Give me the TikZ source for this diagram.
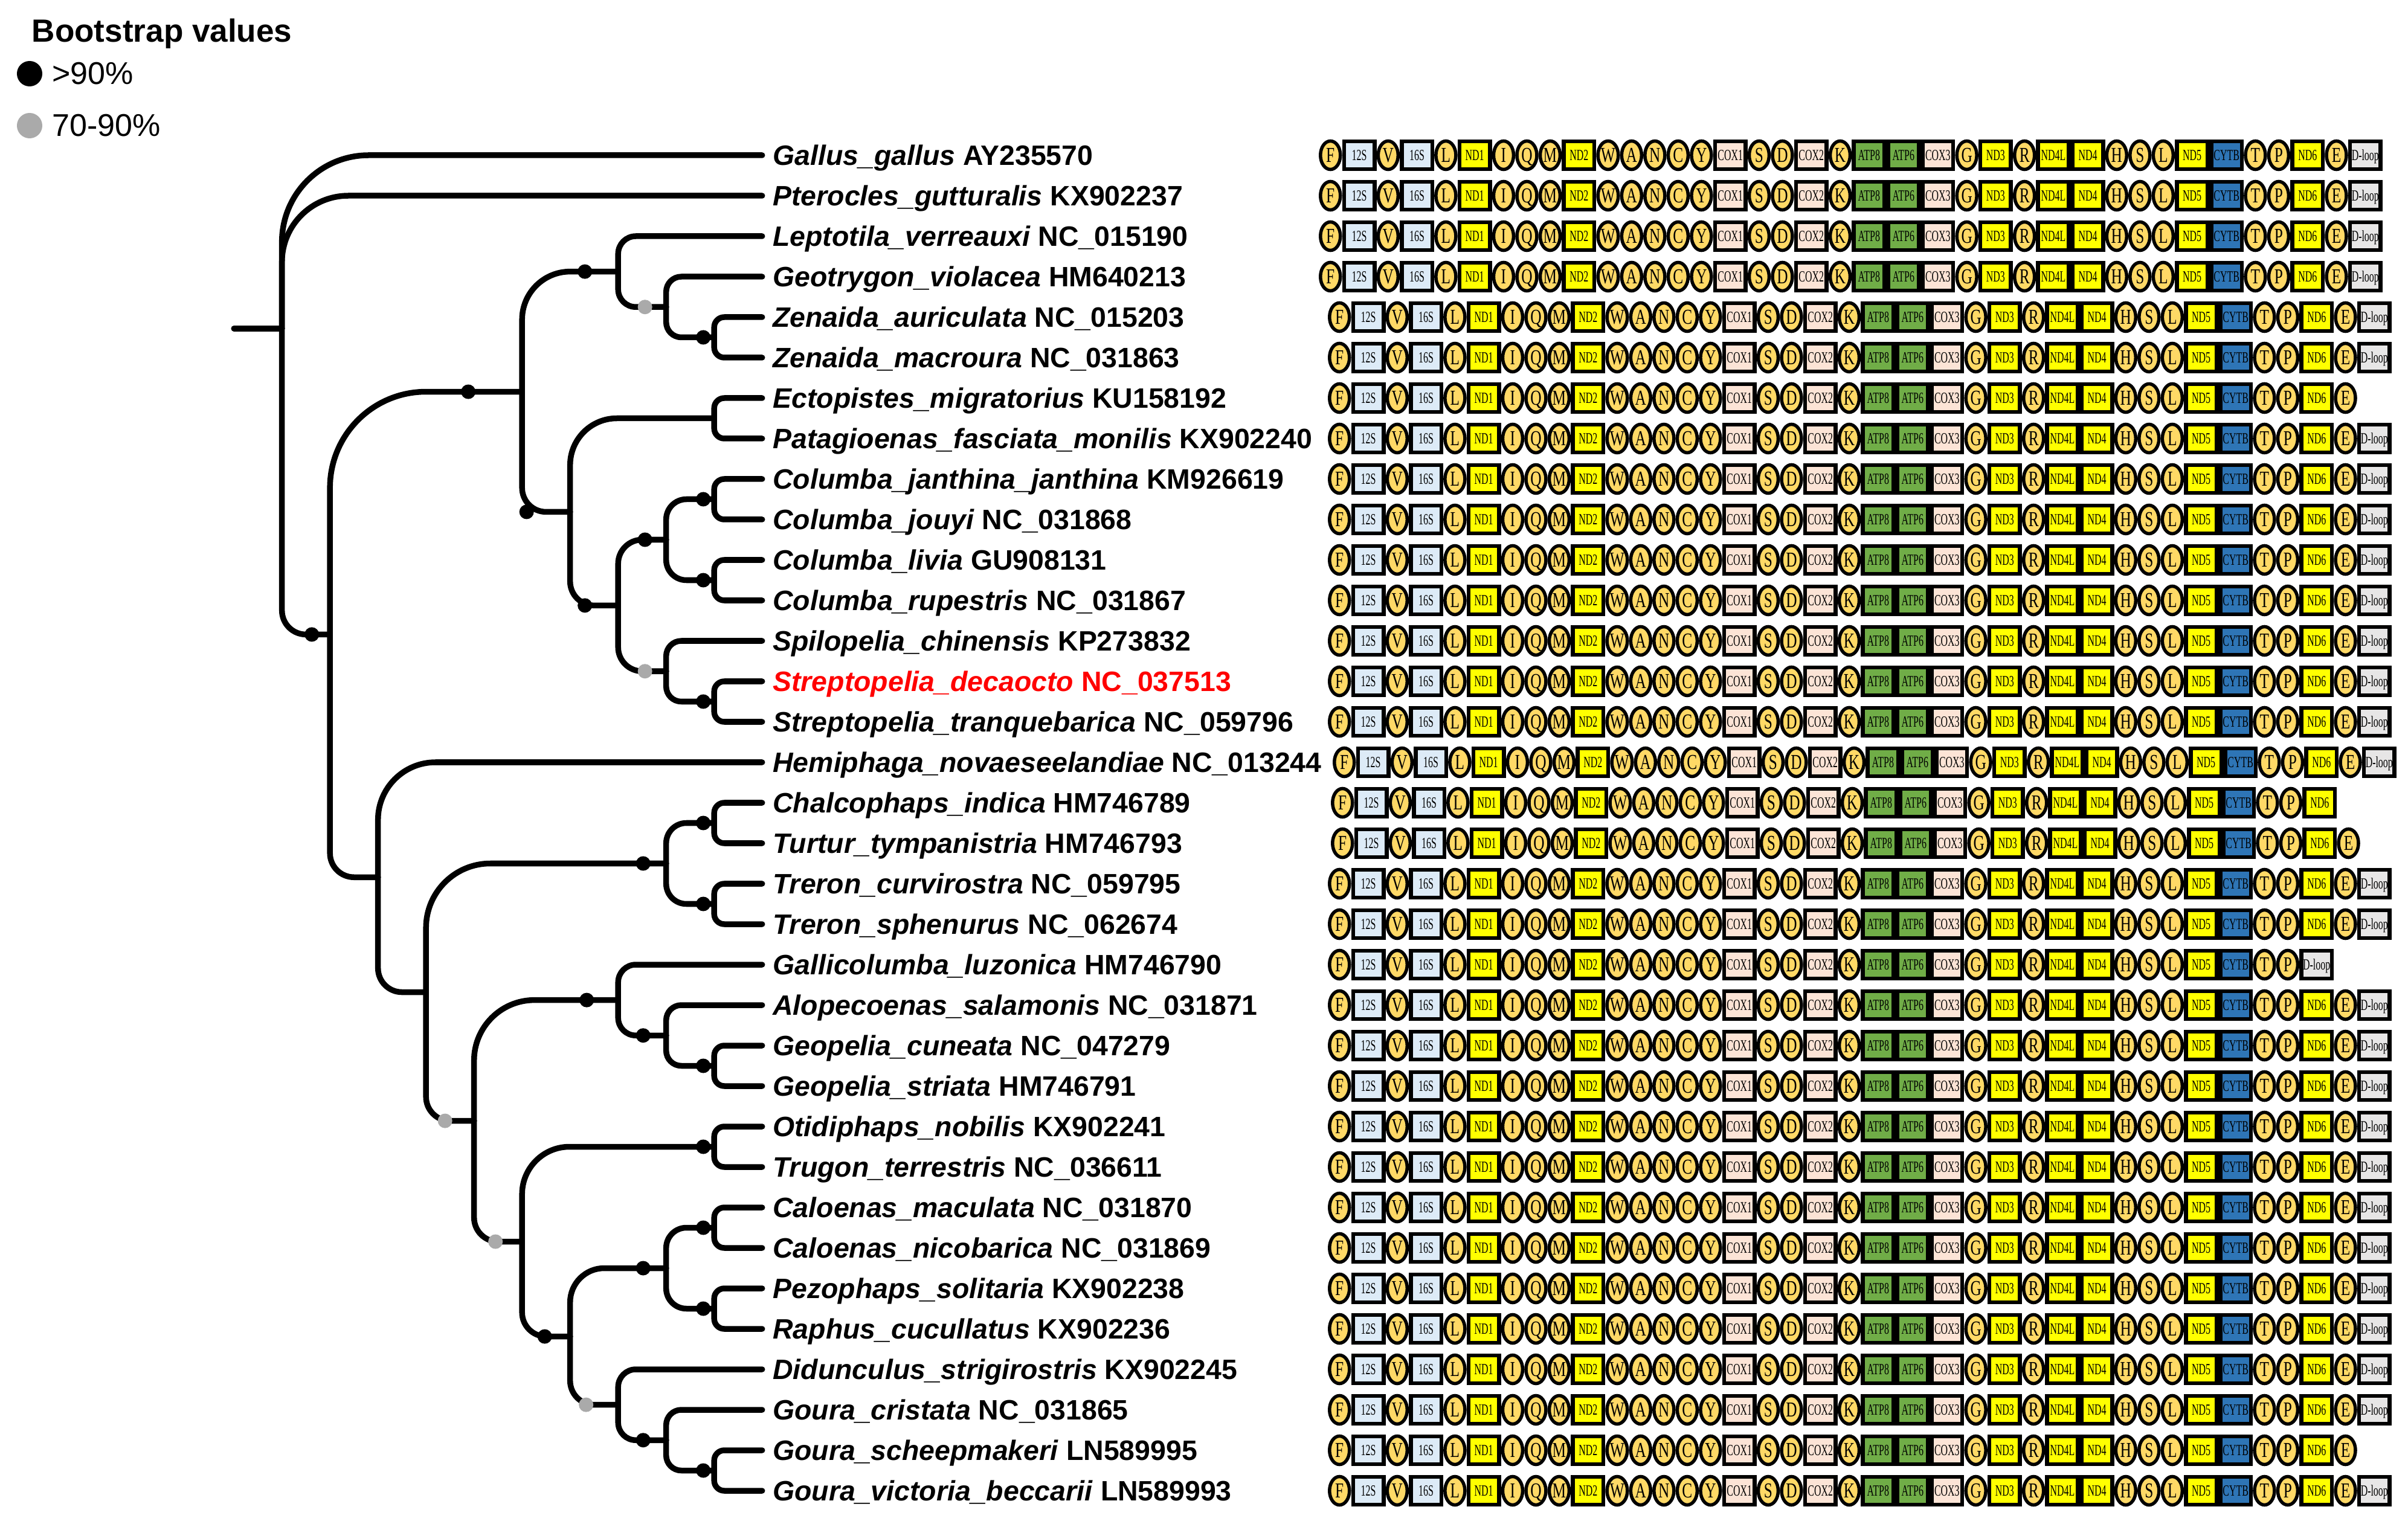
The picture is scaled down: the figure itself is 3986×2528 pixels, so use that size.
\documentclass[tikz,border=0pt]{standalone}
\usepackage{fontspec}
\setmainfont{Liberation Sans}
\newfontfamily\trnafont{Liberation Serif}[FakeStretch=0.72]
\newfontfamily\boxfont{Liberation Serif}[FakeStretch=0.62]
\usetikzlibrary{shapes.geometric, positioning, calc}

\definecolor{trnacol}{RGB}{255,217,102}
\definecolor{rrnacol}{RGB}{221,235,247}
\definecolor{ndcol}{RGB}{255,255,0}
\definecolor{coxcol}{RGB}{252,228,214}
\definecolor{atpcol}{RGB}{112,173,71}
\definecolor{cytbcol}{RGB}{46,117,182}
\definecolor{dloopcol}{RGB}{231,230,230}
\definecolor{bsgray}{RGB}{170,170,170}
\definecolor{focus}{RGB}{255,0,0}

\tikzset{
    x=0.01cm, y=-0.01cm, % one unit is one pixel of the figure, y runs down
    branch/.style={line width=0.095cm, line cap=round, line join=round},
    elbow/.style={to path={let \p1=(\tikztostart), \p2=(\tikztotarget),
        \n1={0.5*min(abs(\x2-\x1),abs(\y2-\y1))}
        in [rounded corners=\n1*1pt] (\tikztostart) |- (\tikztotarget)}}, % square branch, round elbow
    bsdot/.style={circle, inner sep=0pt, minimum size=0.24cm},
    taxon/.style={inner sep=0pt, font=\fontsize{13.2}{15}\selectfont\bfseries},
    legtext/.style={inner sep=0pt, font=\fontsize{14.8}{17}\selectfont},
    trna/.style={ellipse, draw=black, line width=0.055cm, fill=trnacol, inner sep=0pt,
        minimum width=0.33cm, minimum height=0.47cm,
        font=\trnafont\fontsize{10}{10}\selectfont, text height=6.6pt, text depth=0pt},
    genebox/.style={rectangle, draw=black, line width=0.065cm, inner sep=0pt,
        minimum width=0.505cm, minimum height=0.455cm,
        font=\boxfont\fontsize{7.3}{7.3}\selectfont, text height=4.8pt, text depth=0pt},
    rrna/.style={genebox, fill=rrnacol},
    nd/.style={genebox, fill=ndcol},
    cox/.style={genebox, fill=coxcol},
    atp/.style={genebox, fill=atpcol},
    cytb/.style={genebox, fill=cytbcol},
    dloop/.style={genebox, fill=dloopcol},
}

\newcommand{\lx}[1]{466.7+79.5*(#1)} % tree level -> x
\newcommand{\ry}[1]{257+67*(#1)}     % row -> y

% gene orders
\def\ordfull{F/trna, 12S/rrna, V/trna, 16S/rrna, L/trna, ND1/nd, I/trna, Q/trna, M/trna, ND2/nd, W/trna, A/trna, N/trna, C/trna, Y/trna, COX1/cox, S/trna, D/trna, COX2/cox, K/trna, ATP8/atp, ATP6/atp, COX3/cox, G/trna, ND3/nd, R/trna, ND4L/nd, ND4/nd, H/trna, S/trna, L/trna, ND5/nd, CYTB/cytb, T/trna, P/trna, ND6/nd, E/trna, D-loop/dloop}
\def\ordnoloop{F/trna, 12S/rrna, V/trna, 16S/rrna, L/trna, ND1/nd, I/trna, Q/trna, M/trna, ND2/nd, W/trna, A/trna, N/trna, C/trna, Y/trna, COX1/cox, S/trna, D/trna, COX2/cox, K/trna, ATP8/atp, ATP6/atp, COX3/cox, G/trna, ND3/nd, R/trna, ND4L/nd, ND4/nd, H/trna, S/trna, L/trna, ND5/nd, CYTB/cytb, T/trna, P/trna, ND6/nd, E/trna}
\def\ordnoE{F/trna, 12S/rrna, V/trna, 16S/rrna, L/trna, ND1/nd, I/trna, Q/trna, M/trna, ND2/nd, W/trna, A/trna, N/trna, C/trna, Y/trna, COX1/cox, S/trna, D/trna, COX2/cox, K/trna, ATP8/atp, ATP6/atp, COX3/cox, G/trna, ND3/nd, R/trna, ND4L/nd, ND4/nd, H/trna, S/trna, L/trna, ND5/nd, CYTB/cytb, T/trna, P/trna, ND6/nd}
\def\ordgal{F/trna, 12S/rrna, V/trna, 16S/rrna, L/trna, ND1/nd, I/trna, Q/trna, M/trna, ND2/nd, W/trna, A/trna, N/trna, C/trna, Y/trna, COX1/cox, S/trna, D/trna, COX2/cox, K/trna, ATP8/atp, ATP6/atp, COX3/cox, G/trna, ND3/nd, R/trna, ND4L/nd, ND4/nd, H/trna, S/trna, L/trna, ND5/nd, CYTB/cytb, T/trna, P/trna, D-loop/dloop}

\newcommand{\genestrip}[3]{%
    \coordinate (g#1-0) at (#2,{\ry{#1}});
    \foreach \gname/\gtype [count=\k] in #3 {
        \pgfmathtruncatemacro\gprev{\k-1}
        \node[\gtype, right=0pt of g#1-\gprev] (g#1-\k) {\gname};
    }%
}

\begin{document}
\begin{tikzpicture}
    \useasboundingbox (0,0) rectangle (3986,2528);

    % legend
    \node[anchor=base west, inner sep=0pt, font=\fontsize{15.1}{18}\selectfont\bfseries] (legtitle) at (52,70) {Bootstrap values};
    \node[bsdot, fill=black, minimum size=0.42cm] (leg1) at (49,122) {};
    \node[legtext, right=0.15cm of leg1] (legt1) {>90\%};
    \node[bsdot, fill=bsgray, minimum size=0.42cm] (leg2) at (49,208) {};
    \node[legtext, right=0.15cm of leg2] (legt2) {70-90\%};

    % leaves and names
    \foreach \i/\sp/\acc/\col in {
        0/Gallus\_gallus/AY235570/black,
        1/Pterocles\_gutturalis/KX902237/black,
        2/Leptotila\_verreauxi/NC\_015190/black,
        3/Geotrygon\_violacea/HM640213/black,
        4/Zenaida\_auriculata/NC\_015203/black,
        5/Zenaida\_macroura/NC\_031863/black,
        6/Ectopistes\_migratorius/KU158192/black,
        7/Patagioenas\_fasciata\_monilis/KX902240/black,
        8/Columba\_janthina\_janthina/KM926619/black,
        9/Columba\_jouyi/NC\_031868/black,
        10/Columba\_livia/GU908131/black,
        11/Columba\_rupestris/NC\_031867/black,
        12/Spilopelia\_chinensis/KP273832/black,
        13/Streptopelia\_decaocto/NC\_037513/focus,
        14/Streptopelia\_tranquebarica/NC\_059796/black,
        15/Hemiphaga\_novaeseelandiae/NC\_013244/black,
        16/Chalcophaps\_indica/HM746789/black,
        17/Turtur\_tympanistria/HM746793/black,
        18/Treron\_curvirostra/NC\_059795/black,
        19/Treron\_sphenurus/NC\_062674/black,
        20/Gallicolumba\_luzonica/HM746790/black,
        21/Alopecoenas\_salamonis/NC\_031871/black,
        22/Geopelia\_cuneata/NC\_047279/black,
        23/Geopelia\_striata/HM746791/black,
        24/Otidiphaps\_nobilis/KX902241/black,
        25/Trugon\_terrestris/NC\_036611/black,
        26/Caloenas\_maculata/NC\_031870/black,
        27/Caloenas\_nicobarica/NC\_031869/black,
        28/Pezophaps\_solitaria/KX902238/black,
        29/Raphus\_cucullatus/KX902236/black,
        30/Didunculus\_strigirostris/KX902245/black,
        31/Goura\_cristata/NC\_031865/black,
        32/Goura\_scheepmakeri/LN589995/black,
        33/Goura\_victoria\_beccarii/LN589993/black} {
        \coordinate (l\i) at ({\lx{10}},{\ry{\i}});
        \node[taxon, text=\col, anchor=base west] (t\i) at ([xshift=0.17cm, yshift=-0.167cm]l\i) {\textit{\sp} \acc};
    }

    % inner nodes: name/level/row
    \foreach \n/\k/\r in {stub/-1/4.2806, root/0/4.2806, col/1/11.8418,
        cA/5/5.84375, cA1/7/2.875, cA1b/8/3.75, cZen/9/4.5,
        cA2/6/8.8125, cEP/9/6.5, cA2b/7/11.125, cCol/8/9.5, cCjj/9/8.5, cClr/9/10.5,
        cStr/8/12.75, cSD/9/13.5,
        cB/2/17.8398, cB2/3/20.6797, cCT/8/17.5, cCTa/9/16.5, cCTb/9/18.5,
        cB3/4/23.8594, cGA/7/20.875, cAG/8/21.75, cGeo/9/22.5,
        cB4/5/26.8438, cOT/9/24.5, cB5/6/29.1875, cB5a/8/27.5, cCal/9/26.5, cPR/9/28.5,
        cB6/7/30.875, cB7/8/31.75, cGou/9/32.5}
        \coordinate (\n) at ({\lx{\k}},{\ry{\r}});

    % branches
    \draw[branch] (stub) -- (root);
    \foreach \a/\b in {root/l0, root/l1, root/col, col/cA, col/cB,
        cA/cA1, cA/cA2, cA1/l2, cA1/cA1b, cA1b/l3, cA1b/cZen, cZen/l4, cZen/l5,
        cA2/cEP, cA2/cA2b, cEP/l6, cEP/l7, cA2b/cCol, cA2b/cStr,
        cCol/cCjj, cCol/cClr, cCjj/l8, cCjj/l9, cClr/l10, cClr/l11,
        cStr/l12, cStr/cSD, cSD/l13, cSD/l14,
        cB/l15, cB/cB2, cB2/cCT, cB2/cB3, cCT/cCTa, cCT/cCTb,
        cCTa/l16, cCTa/l17, cCTb/l18, cCTb/l19,
        cB3/cGA, cB3/cB4, cGA/l20, cGA/cAG, cAG/l21, cAG/cGeo, cGeo/l22, cGeo/l23,
        cB4/cOT, cB4/cB5, cOT/l24, cOT/l25, cB5/cB5a, cB5/cB6,
        cB5a/cCal, cB5a/cPR, cCal/l26, cCal/l27, cPR/l28, cPR/l29,
        cB6/l30, cB6/cB7, cB7/l31, cB7/cGou, cGou/l32, cGou/l33}
        \draw[branch] (\a) to[elbow] (\b);

    % bootstrap dots: node/offset/colour
    \foreach \n/\d/\c in {col/0.30/black, cA/0.89/black, cA1/0.55/black, cA1b/0.35/bsgray,
        cZen/0.18/black, cA2/0.72/black, cA2b/0.55/black, cCol/0.35/black,
        cCjj/0.18/black, cClr/0.18/black, cStr/0.35/bsgray, cSD/0.18/black,
        cCT/0.38/black, cCTa/0.18/black, cCTb/0.18/black,
        cB3/0.48/bsgray, cGA/0.52/black, cAG/0.38/black, cGeo/0.18/black,
        cB4/0.44/bsgray, cOT/0.18/black, cB5/0.42/black, cB5a/0.38/black,
        cCal/0.18/black, cPR/0.18/black, cB6/0.53/bsgray, cB7/0.38/black, cGou/0.18/black}
        \node[bsdot, fill=\c] (bs-\n) at ([xshift=-\d*1cm]\n) {};

    % gene order strips: row/start/variant
    \foreach \i/\xs/\v in {0/2183/0, 1/2183/0, 2/2183/0, 3/2183/0, 4/2198/0, 5/2198/0,
        6/2198/1, 7/2198/0, 8/2198/0, 9/2198/0, 10/2198/0, 11/2198/0, 12/2198/0,
        13/2198/0, 14/2198/0, 15/2206/0, 16/2203/2, 17/2203/1, 18/2198/0, 19/2198/0,
        20/2198/3, 21/2198/0, 22/2198/0, 23/2198/0, 24/2198/0, 25/2198/0, 26/2198/0,
        27/2198/0, 28/2198/0, 29/2198/0, 30/2198/0, 31/2198/0, 32/2198/1, 33/2198/0} {
        \ifcase\v \genestrip{\i}{\xs}{\ordfull}
        \or \genestrip{\i}{\xs}{\ordnoloop}
        \or \genestrip{\i}{\xs}{\ordnoE}
        \or \genestrip{\i}{\xs}{\ordgal}
        \fi
    }
\end{tikzpicture}
\end{document}
